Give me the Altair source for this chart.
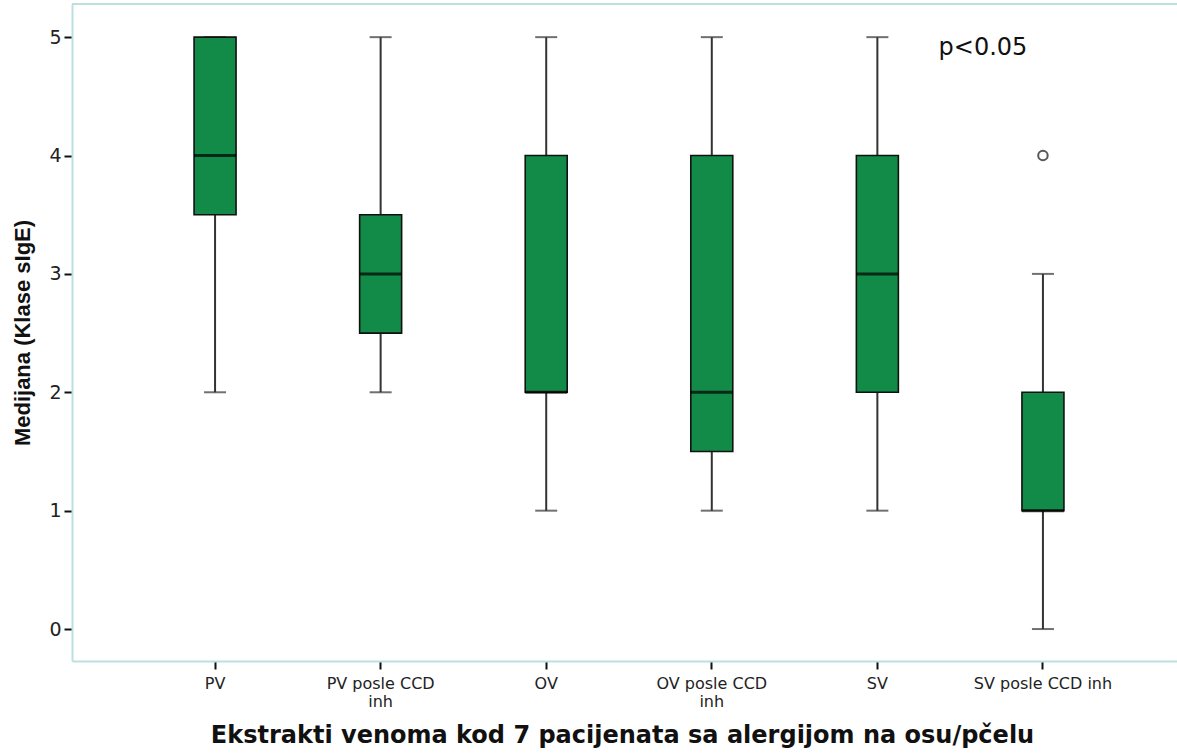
import altair as alt
import pandas as pd

# Categories (use "|" for a line break in the tick label)
categories = ["PV", "PV  posle CCD|inh", "OV", "OV posle CCD|inh", "SV", "SV posle CCD inh"]
whisker_low = [2, 2, 1, 1, 1, 0]
box_q1 = [3.5, 2.5, 2, 1.5, 2, 1]
box_median = [4, 3, 2, 2, 3, 1]
box_q3 = [5, 3.5, 4, 4, 4, 2]
whisker_high = [5, 5, 5, 5, 5, 3]

outlier_cats = ["SV posle CCD inh"]
outlier_vals = [4]

y_ticks = [0, 1, 2, 3, 4, 5]
y_min, y_max = -0.27, 5.28

annot_cat = ["SV posle CCD inh"]
annot_y = [4.91]
annot_text = ["p<0.05"]

GREEN = "#128b48"
FRAME = "#bcdfe0"

df = pd.DataFrame({
    "cat": categories, "lo": whisker_low, "q1": box_q1,
    "med": box_median, "q3": box_q3, "hi": whisker_high,
})
df_out = pd.DataFrame({"cat": outlier_cats, "val": outlier_vals})
df_txt = pd.DataFrame({"cat": annot_cat, "y": annot_y, "t": annot_text})

xscale = alt.Scale(domain=categories, paddingOuter=0.364, paddingInner=0)
yscale = alt.Scale(domain=[y_min, y_max], nice=False, zero=False)

x_enc = alt.X("cat:N", scale=xscale, sort=categories,
              title="Ekstrakti venoma kod 7 pacijenata sa alergijom na osu/pčelu",
              axis=alt.Axis(labelAngle=0, labelExpr="split(datum.label, '|')",
                            domainColor=FRAME, domainWidth=2, tickColor="#111",
                            tickWidth=2, tickSize=8, labelPadding=6,
                            labelFont="DejaVu Sans", labelFontSize=16, labelColor="#222",
                            labelLineHeight=18,
                            titleFont="DejaVu Sans", titleFontSize=24, titleFontWeight="bold",
                            titleColor="#111", titlePadding=14, titleX=550))

y_axis = alt.Axis(values=y_ticks, format="d", grid=False, domainColor=FRAME, domainWidth=2,
                  tickColor="#111", tickWidth=2, tickSize=8, labelPadding=3,
                  labelFont="DejaVu Sans", labelFontSize=19, labelColor="#222",
                  titleFont="Liberation Sans", titleFontSize=22, titleFontWeight="bold",
                  titleColor="#111", titlePadding=14)

base = alt.Chart(df)

whisk = base.mark_rule(color="#333", strokeWidth=2).encode(
    x=x_enc,
    y=alt.Y("lo:Q", scale=yscale, axis=y_axis, title="Medijana (Klase sIgE)"),
    y2="hi:Q",
)
cap_lo = base.mark_tick(size=22, thickness=2, color="#333").encode(x="cat:N", y="lo:Q")
cap_hi = base.mark_tick(size=22, thickness=2, color="#333").encode(x="cat:N", y="hi:Q")
box = base.mark_bar(size=42, fill=GREEN, stroke="#111", strokeWidth=1.6).encode(
    x="cat:N", y="q1:Q", y2="q3:Q")
med = base.mark_tick(size=42, thickness=3, color="#000").encode(x="cat:N", y="med:Q")
outl = alt.Chart(df_out).mark_point(shape="circle", filled=False, size=90,
                                    color="#111", strokeWidth=2).encode(x="cat:N", y="val:Q")
txt = alt.Chart(df_txt).mark_text(font="DejaVu Sans", fontSize=24, color="#111", dx=-60).encode(
    x="cat:N", y="y:Q", text="t:N")
top = alt.Chart(df).mark_rule(color=FRAME, strokeWidth=2).encode(y=alt.datum(y_max))

chart = alt.layer(top, whisk, cap_lo, cap_hi, box, med, outl, txt).properties(
    width=1114, height=657,
    background="white",
    autosize=alt.AutoSizeParams(type="none"),
    padding={"left": 72, "top": 4, "right": -9, "bottom": 94},
).configure_view(stroke="transparent", strokeWidth=0)

chart.save("out.html", embed_options={"renderer": "svg", "actions": False})
